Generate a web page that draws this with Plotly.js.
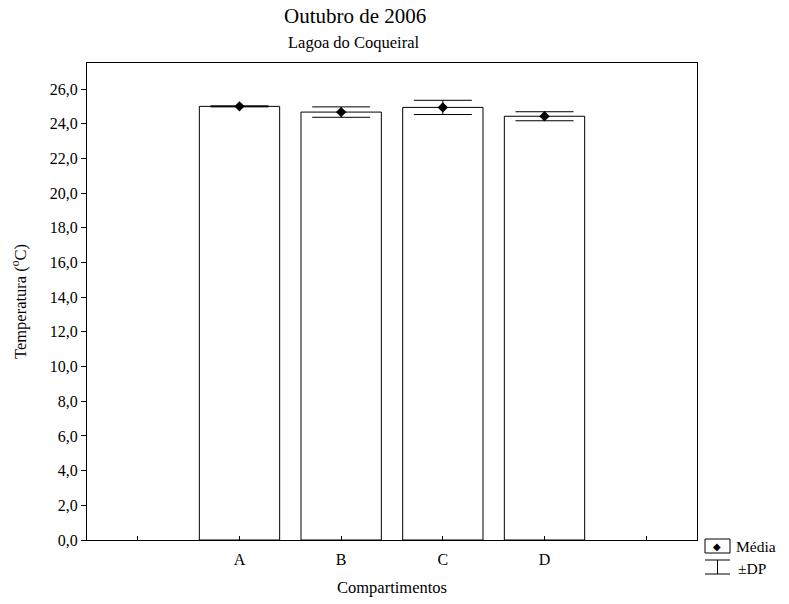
<!DOCTYPE html>
<html>
<head>
<meta charset="utf-8">
<script src="https://cdn.plot.ly/plotly-3.0.1.min.js"></script>
<style>html,body{margin:0;padding:0;background:#fff;}</style>
</head>
<body>
<div id="chart" style="width:789px;height:604px;"></div>
<script>
// Data
const emptySlots = [0, 5];
const categories = ["A", "B", "C", "D"];
const catPos = [1, 2, 3, 4];
const meanTemp = [25.0, 24.67, 24.94, 24.43];
const sdTemp = [0.03, 0.30, 0.41, 0.26];
const yTicks = [0, 2, 4, 6, 8, 10, 12, 14, 16, 18, 20, 22, 24, 26];
const yTickText = yTicks.map(v => v.toFixed(1).replace('.', ','));

const font = "Liberation Serif";

const bars = {
  type: 'bar', x: catPos, y: meanTemp, width: 0.79,
  marker: {color: '#ffffff', line: {color: '#000000', width: 1}},
  hoverinfo: 'skip', showlegend: false
};
const pts = {
  type: 'scatter', mode: 'markers', x: catPos, y: meanTemp,
  marker: {symbol: 'diamond', size: 8, color: '#000000'},
  error_y: {type: 'data', array: sdTemp, visible: true, color: '#000000', thickness: 1, width: 29},
  showlegend: false
};

const layout = {
  width: 789, height: 604,
  margin: {l: 87, r: 92, t: 63, b: 64},
  paper_bgcolor: '#ffffff', plot_bgcolor: '#ffffff',
  font: {family: font, size: 16, color: '#000000'},
  showlegend: false,
  xaxis: {
    range: [-0.5, 5.5], tickmode: 'array', tickvals: catPos, ticktext: categories,
    ticks: 'inside', ticklen: 4, tickcolor: '#000', showgrid: false, zeroline: false,
    minor: {tickmode: 'array', tickvals: emptySlots, ticks: 'inside', ticklen: 4, tickcolor: '#000', showgrid: false},
    showline: true, linecolor: '#000', linewidth: 1, mirror: true,
    ticklabelstandoff: 5,
    tickfont: {family: font, size: 16},
    title: {text: 'Compartimentos', font: {family: font, size: 16.5}, standoff: 14}
  },
  yaxis: {
    range: [0, 27.5], tickvals: yTicks, ticktext: yTickText,
    ticks: 'outside', ticklen: 5, tickcolor: '#000', showgrid: false, zeroline: false,
    showline: true, linecolor: '#000', linewidth: 1, mirror: true,
    tickfont: {family: font, size: 16},
    title: {text: 'Temperatura (<sup>o</sup>C)', font: {family: font, size: 16.5}, standoff: 19}
  },
  annotations: [
    {text: 'Outubro de 2006', xref: 'paper', yref: 'paper', x: 0.439, y: 1.0, yshift: 47,
     showarrow: false, font: {family: font, size: 21}, xanchor: 'center', yanchor: 'middle'},
    {text: 'Lagoa do Coqueiral', xref: 'paper', yref: 'paper', x: 0.437, y: 1.0, yshift: 21,
     showarrow: false, font: {family: font, size: 16.5}, xanchor: 'center', yanchor: 'middle'},
    {text: '◆', xref: 'paper', yref: 'paper', x: 1.0, xshift: 20, y: 0, yshift: -6,
     showarrow: false, font: {family: 'DejaVu Sans', size: 10}, xanchor: 'center', yanchor: 'middle'},
    {text: 'Média', xref: 'paper', yref: 'paper', x: 1.0, xshift: 37, y: 0, yshift: -6,
     showarrow: false, font: {family: font, size: 15.5}, xanchor: 'left', yanchor: 'middle'},
    {text: '±DP', xref: 'paper', yref: 'paper', x: 1.0, xshift: 39, y: 0, yshift: -28,
     showarrow: false, font: {family: font, size: 15.5}, xanchor: 'left', yanchor: 'middle'}
  ],
  shapes: [
    {type: 'rect', xref: 'paper', yref: 'paper', xsizemode: 'pixel', ysizemode: 'pixel', xanchor: 1.0, yanchor: 0,
     x0: 8, x1: 33, y0: 1, y1: -13, line: {color: '#000', width: 1}},
    {type: 'line', xref: 'paper', yref: 'paper', xsizemode: 'pixel', ysizemode: 'pixel', xanchor: 1.0, yanchor: 0,
     x0: 8, x1: 33, y0: -20, y1: -20, line: {color: '#000', width: 1}},
    {type: 'line', xref: 'paper', yref: 'paper', xsizemode: 'pixel', ysizemode: 'pixel', xanchor: 1.0, yanchor: 0,
     x0: 8, x1: 33, y0: -34, y1: -34, line: {color: '#000', width: 1}},
    {type: 'line', xref: 'paper', yref: 'paper', xsizemode: 'pixel', ysizemode: 'pixel', xanchor: 1.0, yanchor: 0,
     x0: 20.5, x1: 20.5, y0: -20, y1: -34, line: {color: '#000', width: 1}}
  ]
};

Plotly.newPlot('chart', [bars, pts], layout, {displayModeBar: false, staticPlot: true});
</script>
</body>
</html>
